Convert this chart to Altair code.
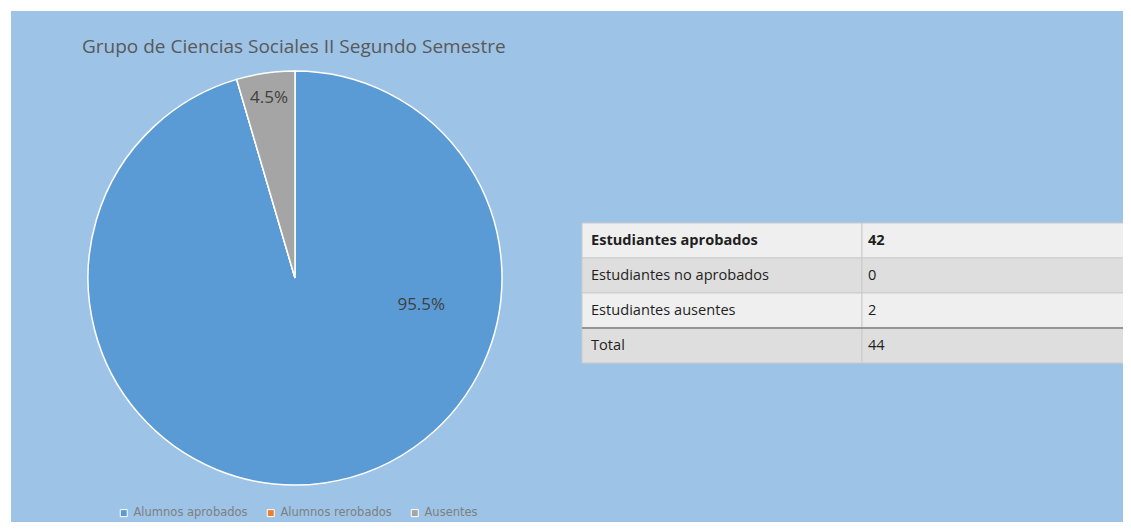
import altair as alt
import pandas as pd

# ---- data ----
categories = ["Alumnos aprobados", "Alumnos rerobados", "Ausentes"]
counts = [42, 0, 2]
slice_colors = ["#5B9BD5", "#ED7D31", "#A5A5A5"]

table_labels = ["Estudiantes aprobados", "Estudiantes no aprobados", "Estudiantes ausentes", "Total"]
table_values = [42, 0, 2, 44]

title_text = "Grupo de Ciencias Sociales II Segundo Semestre"

# ---- layout constants ----
W, H = 1112, 511
CX, CY, R = 284, 267, 207
X_RANGE = [571, 1131]
Y_RANGE = [212, 352]

total = sum(counts)
pie_df = pd.DataFrame({
    "cat": categories,
    "n": counts,
    "idx": list(range(len(categories))),
    "pct": [f"{v / total * 100:.1f}%" for v in counts],
})

rows = []
for i, (lab, val) in enumerate(zip(table_labels, table_values)):
    rows.append({"row": lab, "col": "label", "txt": lab, "ri": i, "bold": i == 0})
    rows.append({"row": lab, "col": "value", "txt": str(val), "ri": i, "bold": i == 0})
tab_df = pd.DataFrame(rows)

xs = alt.Scale(domain=["label", "value"], range=X_RANGE, paddingInner=0, paddingOuter=0)
ys = alt.Scale(domain=table_labels, range=Y_RANGE, paddingInner=0, paddingOuter=0)

tab = alt.Chart(tab_df)
cells = tab.mark_rect(stroke="#CBCBCB", strokeWidth=1).encode(
    x=alt.X("col:N", scale=xs, axis=None),
    y=alt.Y("row:N", scale=ys, axis=None),
    fill=alt.condition("datum.ri % 2 == 0", alt.value("#EFEFEF"), alt.value("#DEDEDE")),
)
sep = tab.mark_rule(color="#7F7F7F", strokeWidth=1.5).encode(
    y=alt.Y("row:N", scale=ys, axis=None, bandPosition=0),
    x=alt.value(X_RANGE[0]),
    x2=alt.value(W),
).transform_filter("datum.ri == 3 && datum.col == 'label'")

def tab_text(col, bold, dx):
    return tab.mark_text(
        align="left", baseline="middle", dx=dx, font="Open Sans", fontSize=14.6,
        fontWeight="bold" if bold else "normal", color="#1F1F1F",
    ).encode(
        x=alt.X("col:N", scale=xs, axis=None, bandPosition=0),
        y=alt.Y("row:N", scale=ys, axis=None),
        text="txt:N",
    ).transform_filter(
        f"datum.col == '{col}' && datum.bold == {'true' if bold else 'false'}"
    )

texts = [tab_text("label", False, 9), tab_text("label", True, 9),
         tab_text("value", False, 6), tab_text("value", True, 6)]

base_pie = alt.Chart(pie_df).encode(
    theta=alt.Theta("n:Q", stack=True),
    order=alt.Order("idx:Q"),
    x=alt.value(CX),
    y=alt.value(CY),
)
arcs = base_pie.mark_arc(outerRadius=R, stroke="white", strokeWidth=1.5).encode(
    color=alt.Color(
        "cat:N",
        scale=alt.Scale(domain=categories, range=slice_colors),
        legend=alt.Legend(
            orient="none", legendX=107, legendY=496, direction="horizontal",
            title=None, symbolType="square", symbolSize=49,
            symbolStrokeColor="white", symbolStrokeWidth=1,
            labelFont="DejaVu Sans", labelFontSize=11.5, labelColor="#7F7F7F",
            columnPadding=17, labelOffset=4, padding=0,
        ),
    )
)
outer_lbl = base_pie.mark_text(
    radius=182, font="Open Sans", fontSize=17, color="#404040"
).encode(text="lo:N").transform_calculate(
    lo="datum.cat == 'Ausentes' ? datum.pct : ''"
)
inner_lbl = base_pie.mark_text(
    radius=30, dx=122, dy=-3, font="Open Sans", fontSize=17, color="#404040"
).encode(text="li:N").transform_calculate(
    li="datum.cat == 'Alumnos aprobados' ? datum.pct : ''"
)

chart = alt.layer(cells, sep, *texts, arcs, outer_lbl, inner_lbl).properties(
    width=W,
    height=H,
    autosize=alt.AutoSizeParams(type="none"),
    padding={"left": 3, "top": 3, "right": 0, "bottom": 0},
    title=alt.TitleParams(
        title_text, anchor="start", frame="group", dx=71, dy=46, offset=0,
        font="Open Sans", fontSize=19, fontWeight="normal", color="#595959",
    ),
).configure(background="white").configure_view(fill="#9DC3E6", stroke=None)

chart.save("out.html", embed_options={"renderer": "svg", "actions": False})
